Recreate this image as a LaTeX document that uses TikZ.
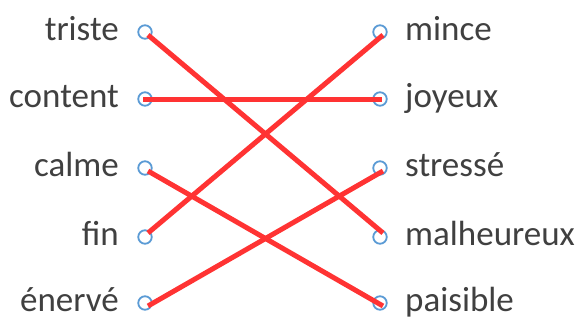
\documentclass[tikz,border=0pt]{standalone}
\usepackage{fontspec}
\setmainfont{Carlito}
\definecolor{txt}{HTML}{404040}
\definecolor{dot}{HTML}{5B9BD5}
\definecolor{lnk}{HTML}{FF3333}
\begin{document}
\begin{tikzpicture}[x=1pt,y=-1pt,
  word/.style={font=\fontsize{35}{37}\selectfont, text=txt, inner sep=0pt},
  lw/.style={word, anchor=base east},
  rw/.style={word, anchor=base west},
  pin/.style={circle, draw=dot, line width=1.8pt, minimum size=13.5pt, inner sep=0pt, fill=white},
  link/.style={draw=lnk, line width=5pt}]
\useasboundingbox (0,0) rectangle (578,324);
\foreach \n/\w/\y in {a/triste/32, b/content/99, c/calme/168, d/fin/237, e/énervé/303}{
  \node[lw] (l\n) at (119,\y+8) {\w};
  \node[pin] (p\n) at (145,\y) {};
}
\foreach \n/\w/\y in {a/mince/32, b/joyeux/99, c/stressé/168, d/malheureux/237, e/paisible/303}{
  \node[rw] (r\n) at (405,\y+8) {\w};
  \node[pin] (q\n) at (380,\y) {};
}
\draw[link] ([shift={(3,3)}]pa.center) -- ([shift={(3,-4)}]qd.center);
\draw[link] ([shift={(-2,0)}]pb.center) -- ([shift={(2,0)}]qb.center);
\draw[link] ([shift={(3,3)}]pc.center) -- ([shift={(3,3)}]qe.center);
\draw[link] ([shift={(3,-4)}]pd.center) -- ([shift={(3,3)}]qa.center);
\draw[link] ([shift={(3,3)}]pe.center) -- ([shift={(3,3)}]qc.center);
\end{tikzpicture}
\end{document}
